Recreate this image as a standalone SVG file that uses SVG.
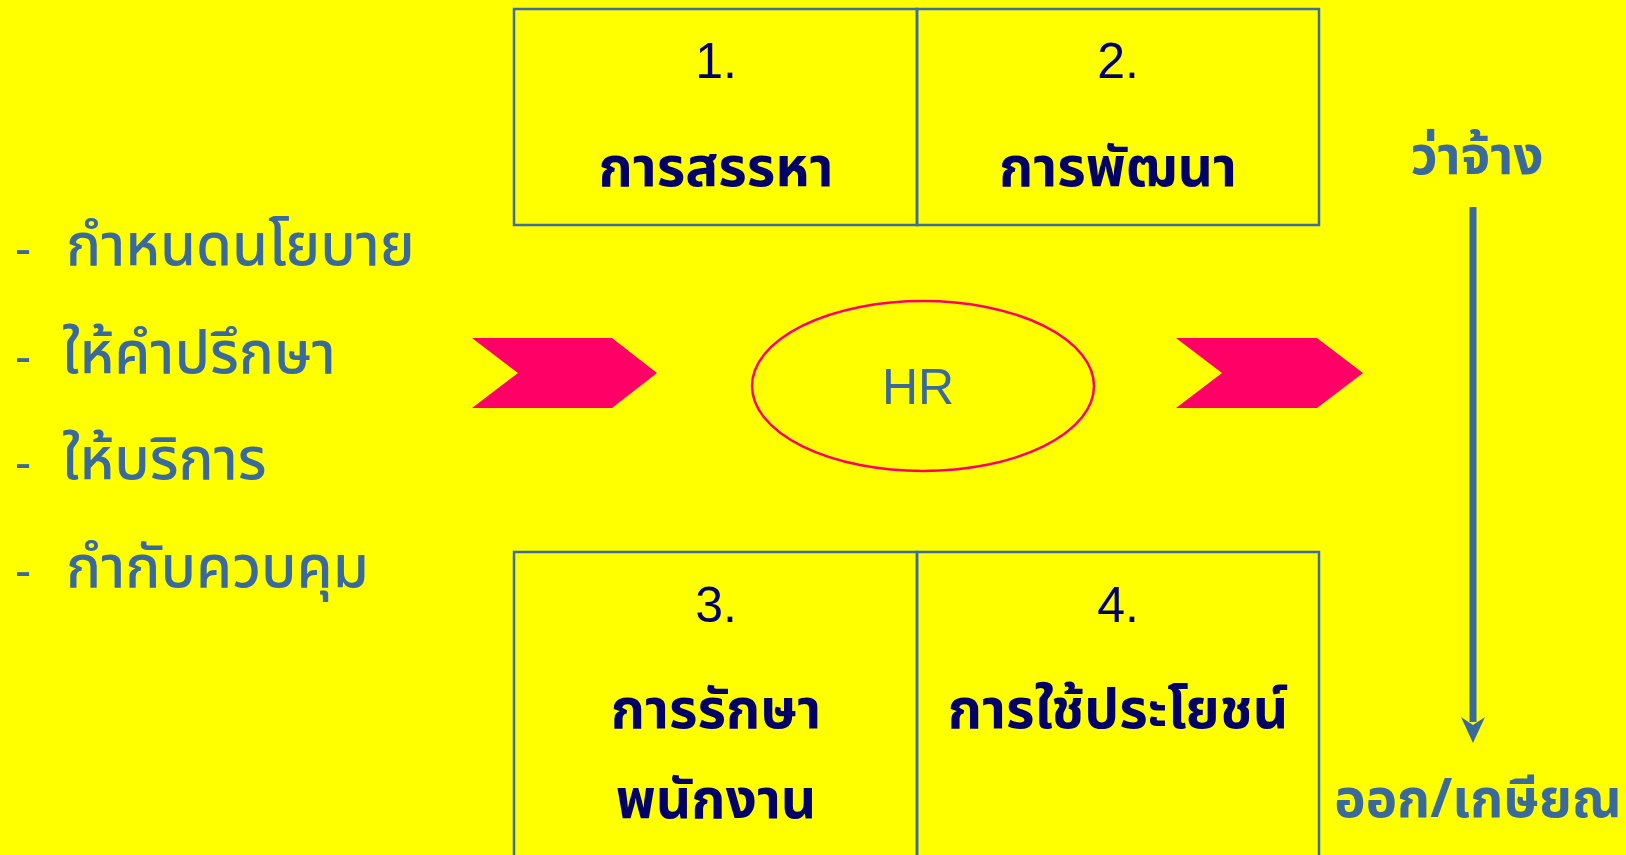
<svg xmlns="http://www.w3.org/2000/svg" width="1626" height="855" viewBox="0 0 1626 855">
<style>
.bg{fill:#FFFF00}
.box{fill:none;stroke:#3A6EA5;stroke-width:2.5}
.num{font-family:"Liberation Sans",Arial,sans-serif;font-size:50px;fill:#000066;text-anchor:middle}
.ttl{font-family:"Noto Sans","Noto Sans Thai",sans-serif;font-weight:bold;font-size:55px;fill:#000066;text-anchor:middle}
.lst{font-family:"Noto Sans","Noto Sans Thai",sans-serif;font-weight:500;font-size:58px;fill:#3A6A9C}
.dash{font-family:"Noto Sans",sans-serif;font-size:50px;fill:#3A6A9C}
.side{font-family:"Noto Sans","Noto Sans Thai",sans-serif;font-weight:bold;font-size:53px;fill:#3A6A9C;text-anchor:middle}
.chev{fill:#FF0066}
</style>
<rect class="bg" x="0" y="0" width="1626" height="855"/>
<g id="list">
<text class="dash" x="15" y="265">-</text><text class="lst" x="66" y="265">กำหนดนโยบาย</text>
<text class="dash" x="15" y="373">-</text><text class="lst" x="62" y="373">ให้คำปรึกษา</text>
<text class="dash" x="15" y="479">-</text><text class="lst" x="62" y="479">ให้บริการ</text>
<text class="dash" x="15" y="587">-</text><text class="lst" x="66" y="587">กำกับควบคุม</text>
</g>
<g id="box1">
<rect class="box" x="514" y="9" width="403" height="216"/>
<text class="num" x="716" y="78">1.</text>
<text class="ttl" x="716" y="186">การสรรหา</text>
</g>
<g id="box2">
<rect class="box" x="917" y="9" width="402" height="216"/>
<text class="num" x="1118" y="78">2.</text>
<text class="ttl" x="1118" y="186">การพัฒนา</text>
</g>
<g id="box3">
<rect class="box" x="514" y="552" width="403" height="310"/>
<text class="num" x="716" y="622">3.</text>
<text class="ttl" x="716" y="728">การรักษา</text>
<text class="ttl" x="716" y="818">พนักงาน</text>
</g>
<g id="box4">
<rect class="box" x="917" y="552" width="402" height="310"/>
<text class="num" x="1118" y="622">4.</text>
<text class="ttl" x="1118" y="728">การใช้ประโยชน์</text>
</g>
<g id="hr">
<ellipse cx="923" cy="386" rx="171" ry="85" fill="none" stroke="#FF0066" stroke-width="2.5"/>
<text x="918" y="404" font-family="Liberation Sans,Arial,sans-serif" font-size="50" fill="#3A6A9C" text-anchor="middle">HR</text>
</g>
<g id="connectors">
<polygon class="chev" points="472,338 612,338 657,373 612,408 472,408 518,373"/>
<polygon class="chev" points="1176,338 1317,338 1363,373 1317,408 1176,408 1222,373"/>
<line x1="1473" y1="207" x2="1473" y2="722" stroke="#3A6A9C" stroke-width="7"/>
<polygon points="1461,717 1473,743 1485,717 1473,725" fill="#3A6A9C"/>
</g>
<g id="labels">
<text class="side" x="1477" y="174">ว่าจ้าง</text>
<text class="side" x="1478" y="817">ออก/เกษียณ</text>
</g>
</svg>
